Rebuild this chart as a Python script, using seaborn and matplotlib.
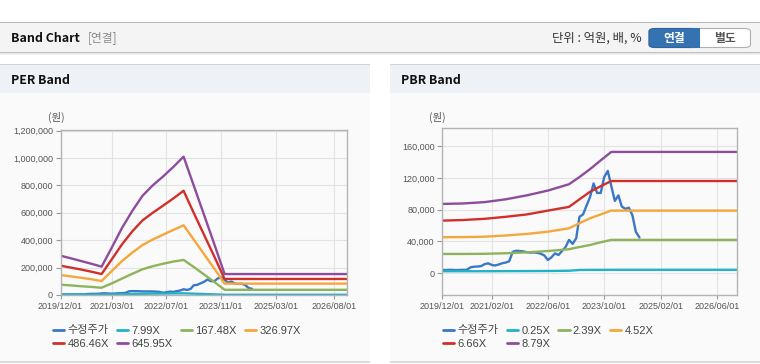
import numpy as np
import pandas as pd
import matplotlib.pyplot as plt
from matplotlib.patches import Rectangle, FancyBboxPatch
from matplotlib.ticker import FuncFormatter
import seaborn as sns

W, H = 760, 364

# ---- data (won) ----
PRICE_START = '2019-12-01'
price = [4200, 4100, 4300, 4200, 4000, 4200, 4300, 4500,
         7500, 8300, 8500, 9000, 11500, 12500, 10500, 9800, 11000, 12600, 13500, 15000,
         27000, 28400, 28000, 27500, 26500, 26000, 26200, 25800, 24500, 22500,
         16700, 20000, 25000, 23000, 28000, 33000, 42000, 37000, 44000,
         71000, 74000, 85000, 96000, 113000, 101000, 101000, 121000, 128700,
         110000, 91000, 98000, 84000, 81000, 82500, 73000, 52000, 45000]

per_dates = ['2019-12-01', '2020-03-01', '2020-06-01', '2020-09-01', '2020-12-01', '2021-03-01',
             '2021-06-01', '2021-09-01', '2021-12-01', '2022-03-01', '2022-06-01', '2022-09-01',
             '2022-12-01', '2023-03-01', '2023-06-01', '2023-09-01', '2023-12-01', '2026-11-25']
per_labels = ['7.99X', '167.48X', '326.97X', '486.46X', '645.95X']
per_799 = [3600, 3300, 3100, 2800, 2500, 4100, 5800, 7400, 9000, 10000, 10900, 11700, 12300, 9800, 7200, 4600, 1800, 1800]
per_16748 = [75000, 70000, 64000, 59000, 53000, 85000, 120000, 155000, 188000, 210000, 228000, 244000, 256000, 205000, 150000, 95000, 38000, 38000]
per_32697 = [146000, 136000, 126000, 115000, 102000, 175000, 248000, 310000, 365000, 405000, 440000, 475000, 509000, 405000, 298000, 192000, 83000, 83000]
per_48646 = [214000, 200000, 186000, 170000, 153000, 260000, 370000, 465000, 545000, 600000, 652000, 705000, 761000, 600000, 440000, 280000, 117000, 117000]
per_64595 = [287000, 268000, 248000, 228000, 207000, 345000, 490000, 615000, 725000, 800000, 865000, 935000, 1010000, 800000, 585000, 370000, 153000, 153000]

pbr_dates = ['2019-12-01', '2020-06-01', '2020-12-01', '2021-06-01', '2021-12-01', '2022-06-01',
             '2022-12-01', '2023-03-01', '2023-06-01', '2023-09-01', '2023-12-01', '2026-11-25']
pbr_labels = ['0.25X', '2.39X', '4.52X', '6.66X', '8.79X']
pbr_025 = [2600, 2600, 2600, 2700, 2800, 2900, 3200, 4200, 4300, 4300, 4400, 4400]
pbr_239 = [24300, 24300, 24500, 25200, 26300, 28000, 30300, 33000, 35600, 39000, 42000, 42000]
pbr_452 = [45300, 45500, 46000, 47500, 49500, 52300, 56600, 63000, 69200, 74000, 78800, 78800]
pbr_666 = [66200, 67000, 68500, 71000, 74000, 78800, 83500, 93000, 102500, 109500, 116000, 116000]
pbr_879 = [87200, 87800, 89500, 93000, 98000, 104000, 112000, 121000, 131000, 142000, 152600, 152600]

per_ticks = ['2019/12/01', '2021/03/01', '2022/07/01', '2023/11/01', '2025/03/01', '2026/08/01']
pbr_ticks = ['2019/12/01', '2021/02/01', '2022/06/01', '2023/10/01', '2025/02/01', '2026/06/01']
X_END = '2026-11-25'

COLORS = ['#3a78c6', '#22b2c8', '#8fb35a', '#f4a73a', '#d0302b', '#8e4d9c']

sns.set_style('white')
plt.rcParams['font.family'] = ['Liberation Sans', 'Noto Sans CJK KR']
KR = ['Noto Sans CJK KR', 'Liberation Sans']


def fx(x):
    return x / W


def fy(y):
    return 1 - y / H


def rect(fig, x0, y0, x1, y1, fc, z=-2):
    fig.add_artist(Rectangle((fx(x0), fy(y1)), (x1 - x0) / W, (y1 - y0) / H,
                             transform=fig.transFigure, fc=fc, ec='none', zorder=z))


def band_plot(ax, band_dates, band_vals, band_labels, ticks, ylim, yticks, leg_x):
    price_dates = pd.date_range(PRICE_START, periods=len(price), freq='MS')
    frames = [pd.DataFrame({'date': price_dates, 'value': price, 'series': '수정주가'})]
    for lab, vals in zip(band_labels, band_vals):
        frames.append(pd.DataFrame({'date': pd.to_datetime(band_dates), 'value': vals, 'series': lab}))
    df = pd.concat(frames, ignore_index=True)
    order = ['수정주가'] + band_labels
    sns.lineplot(data=df, x='date', y='value', hue='series', hue_order=order,
                 palette=COLORS, estimator=None, lw=1.7, ax=ax)

    ax.set_facecolor('none')
    ax.set_xlim(pd.Timestamp('2019-12-01'), pd.Timestamp(X_END))
    ax.set_ylim(*ylim)
    ax.set_xticks(pd.to_datetime(ticks, format='%Y/%m/%d'))
    ax.set_xticklabels(ticks)
    ax.set_yticks(yticks)
    ax.yaxis.set_major_formatter(FuncFormatter(lambda v, p: f'{v:,.0f}'))
    ax.set_xlabel('')
    ax.set_ylabel('')
    ax.grid(True, color='#e3e3e3', lw=0.8)
    ax.set_axisbelow(True)
    for s in ax.spines.values():
        s.set_color('#b4b4b4')
        s.set_linewidth(1)
    ax.tick_params(axis='both', colors='#999999', labelcolor='#555555', labelsize=6.5,
                   length=3.5, width=0.8, pad=2)
    ax.tick_params(axis='x', bottom=True, length=3)
    ax.tick_params(axis='y', left=True)

    old = ax.get_legend()
    handles = list(old.legend_handles)
    labels = [t.get_text() for t in old.texts]
    old.remove()
    for h in handles:
        h.set_linewidth(2)
    idx = [0, 4, 1, 5, 2, 3]
    ax.legend([handles[i] for i in idx], [labels[i] for i in idx], ncol=4,
              loc='upper left', bbox_to_anchor=(fx(leg_x), fy(325.5)),
              bbox_transform=ax.figure.transFigure, frameon=False,
              handlelength=1.0, handletextpad=0.3, columnspacing=0.75,
              labelspacing=0.3, borderpad=0, borderaxespad=0,
              prop={'family': ['Liberation Sans', 'Noto Sans CJK KR'], 'size': 8},
              labelcolor='#444444')


fig = plt.figure(figsize=(7.6, 3.64), dpi=100)
fig.patch.set_facecolor('white')

# page header
rect(fig, 0, 22, W, 23, '#b9b9b9')
rect(fig, 0, 23, W, 52, '#f4f4f4')
rect(fig, 0, 52, W, 53, '#c2c2c2')
rect(fig, 0, 53, W, 54, '#e4e4e4')
rect(fig, 0, 54, W, 55, '#f3f3f3')
fig.text(fx(11), fy(38), 'Band Chart', family=KR, fontweight='bold', fontsize=8.9,
         color='#111111', va='center', ha='left')
fig.text(fx(88), fy(38), '[연결]', family=KR, fontsize=8.5, color='#8a8a8a', va='center', ha='left')
fig.text(fx(642), fy(38.5), '단위 : 억원, 배, %', family=KR, fontsize=8.9, color='#333333',
         va='center', ha='right')

# 연결 / 별도 buttons
fig.add_artist(FancyBboxPatch((fx(649), fy(47.5)), (750.5 - 649) / W, 19 / H,
                              boxstyle='round,pad=0,rounding_size=0.008',
                              transform=fig.transFigure, fc='white', ec='#b0b0b0', lw=0.8, zorder=1))
fig.add_artist(FancyBboxPatch((fx(649), fy(47.5)), (699.5 - 649) / W, 19 / H,
                              boxstyle='round,pad=0,rounding_size=0.008',
                              transform=fig.transFigure, fc='#3572b2', ec='#2d64a0', lw=0.8, zorder=2))
fig.add_artist(Rectangle((fx(690), fy(47.5)), 9.5 / W, 19 / H, transform=fig.transFigure,
                         fc='#3572b2', ec='none', zorder=2))
fig.text(fx(674), fy(38.5), '연결', family=KR, fontweight='bold', fontsize=8.5,
         color='white', va='center', ha='center', zorder=3)
fig.text(fx(725), fy(38.5), '별도', family=KR, fontweight='bold', fontsize=8.5,
         color='#555555', va='center', ha='center', zorder=3)

# panels
for x0, x1, title in [(0, 370, 'PER Band'), (390, 760, 'PBR Band')]:
    rect(fig, x0, 64, x1, 65, '#d4d4d4')
    rect(fig, x0, 65, x1, 93, '#eef1f6')
    rect(fig, x0, 93, x1, 361, '#fafafa')
    rect(fig, x0, 361, x1, 363, '#dcdcdc')
    fig.text(fx(x0 + 11), fy(80), title, family=KR, fontweight='bold', fontsize=8.9,
             color='#111111', va='center', ha='left')

fig.text(fx(56), fy(117), '(원)', family=KR, fontsize=7.5, color='#555555', va='center', ha='center')
fig.text(fx(437), fy(117), '(원)', family=KR, fontsize=7.5, color='#555555', va='center', ha='center')

ax1 = fig.add_axes([fx(60.5), fy(295), (347 - 60.5) / W, (295 - 129.5) / H])
band_plot(ax1, per_dates, [per_799, per_16748, per_32697, per_48646, per_64595], per_labels,
          per_ticks, (0, 1208000), [0, 200000, 400000, 600000, 800000, 1000000, 1200000], 53)

ax2 = fig.add_axes([fx(442.3), fy(295), (737.3 - 442.3) / W, (295 - 128.3) / H])
band_plot(ax2, pbr_dates, [pbr_025, pbr_239, pbr_452, pbr_666, pbr_879], pbr_labels,
          pbr_ticks, (-27300, 182300), [0, 40000, 80000, 120000, 160000], 443)

fig.savefig('out.png', dpi=100)
